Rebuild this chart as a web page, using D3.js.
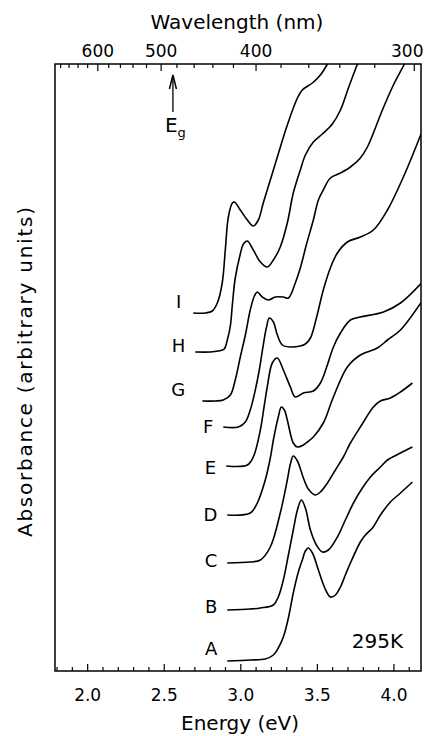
<!DOCTYPE html>
<html>
<head>
<meta charset="utf-8">
<script src="https://cdn.jsdelivr.net/npm/d3@7"></script>
<style>
  body { margin: 0; background: #fff; }
  svg { display: block; font-family: "DejaVu Sans", sans-serif; }
</style>
</head>
<body>
<svg width="427" height="736"></svg>
<script>
// trace names, bottom to top
var names = ["A", "B", "C", "D", "E", "F", "G", "H", "I"];
// vertical offset of each trace (absorbance, arbitrary units)
var offsets = [0.10, 0.61, 1.08, 1.56, 2.05, 2.44, 2.70, 3.19, 3.58];

// [energy (eV), absorbance above the trace's own baseline]
var curveA = [[2.915,0],[3.065,0.01],[3.163,0.02],[3.216,0.06],[3.248,0.13],[3.281,0.24],[3.314,0.43],[3.346,0.68],[3.379,0.89],[3.405,1.01],[3.425,1.10],[3.444,1.13],[3.471,1.08],[3.510,0.91],[3.549,0.74],[3.588,0.64],[3.621,0.66],[3.654,0.74],[3.686,0.86],[3.719,0.98],[3.784,1.19],[3.817,1.26],[3.863,1.33],[3.915,1.46],[3.980,1.59],[4.046,1.68],[4.124,1.79]];
var curveB = [[2.915,0],[3.065,0.01],[3.131,0.02],[3.216,0.05],[3.248,0.13],[3.281,0.30],[3.314,0.55],[3.346,0.80],[3.373,1.00],[3.399,1.10],[3.425,1.02],[3.458,0.80],[3.497,0.65],[3.536,0.58],[3.575,0.60],[3.634,0.73],[3.686,0.90],[3.739,1.07],[3.797,1.22],[3.850,1.33],[3.915,1.43],[3.961,1.50],[4.046,1.57],[4.124,1.63]];
var curveC = [[2.915,0],[3.065,0.01],[3.131,0.03],[3.196,0.16],[3.261,0.50],[3.307,0.83],[3.327,0.99],[3.346,1.07],[3.373,1.02],[3.412,0.85],[3.444,0.74],[3.490,0.68],[3.523,0.71],[3.569,0.80],[3.621,0.93],[3.673,1.06],[3.719,1.20],[3.784,1.36],[3.869,1.56],[3.915,1.62],[3.980,1.65],[4.046,1.71],[4.124,1.80]];
var curveD = [[2.915,0],[3.065,0.02],[3.111,0.12],[3.163,0.35],[3.196,0.57],[3.216,0.75],[3.248,0.98],[3.268,1.08],[3.288,1.05],[3.307,0.95],[3.346,0.72],[3.373,0.68],[3.412,0.70],[3.438,0.73],[3.477,0.78],[3.542,0.92],[3.608,1.18],[3.699,1.48],[3.784,1.60],[3.895,1.67],[3.961,1.75],[4.046,1.85],[4.183,2.13]];
var curveE = [[2.908,0],[3.046,0.01],[3.085,0.09],[3.131,0.36],[3.157,0.61],[3.176,0.79],[3.209,1.03],[3.242,1.08],[3.281,0.96],[3.327,0.79],[3.359,0.69],[3.412,0.73],[3.477,0.75],[3.523,0.83],[3.562,0.98],[3.608,1.19],[3.654,1.33],[3.719,1.46],[3.784,1.49],[3.935,1.54],[4.046,1.63],[4.183,1.83]];
var curveF = [[2.889,0],[2.987,0],[3.033,0.05],[3.065,0.17],[3.098,0.37],[3.124,0.57],[3.150,0.82],[3.170,0.99],[3.190,1.09],[3.216,1.05],[3.242,0.92],[3.275,0.82],[3.327,0.80],[3.392,0.81],[3.425,0.83],[3.458,0.89],[3.497,1.09],[3.542,1.37],[3.588,1.59],[3.634,1.74],[3.699,1.85],[3.784,1.90],[3.869,1.97],[3.961,2.17],[4.065,2.50],[4.183,2.94]];
var curveG = [[2.752,0],[2.837,0],[2.889,0.01],[2.935,0.06],[2.967,0.21],[3.000,0.44],[3.033,0.66],[3.065,0.91],[3.092,1.05],[3.111,1.09],[3.144,1.04],[3.183,1.01],[3.229,1.04],[3.281,1.04],[3.314,1.03],[3.359,1.18],[3.392,1.33],[3.431,1.56],[3.477,1.81],[3.510,2.01],[3.542,2.11],[3.588,2.23],[3.654,2.28],[3.719,2.34],[3.784,2.43],[3.830,2.54],[3.882,2.73],[3.928,2.91],[4.000,3.16],[4.072,3.37],[4.111,3.49]];
var curveH = [[2.706,0],[2.804,0],[2.856,0.01],[2.895,0.03],[2.915,0.12],[2.935,0.26],[2.948,0.47],[2.967,0.74],[3.000,0.98],[3.020,1.08],[3.046,1.11],[3.085,1.02],[3.131,0.90],[3.176,0.85],[3.216,0.92],[3.261,1.05],[3.307,1.29],[3.346,1.59],[3.392,1.82],[3.425,1.97],[3.477,2.10],[3.536,2.18],[3.601,2.28],[3.654,2.42],[3.706,2.64],[3.765,2.88],[3.797,3.00]];
var curveI = [[2.693,0],[2.771,0],[2.817,0.02],[2.850,0.10],[2.882,0.30],[2.902,0.63],[2.922,0.96],[2.948,1.10],[2.961,1.11],[3.000,1.03],[3.046,0.93],[3.085,0.87],[3.118,0.93],[3.150,1.10],[3.196,1.33],[3.242,1.56],[3.307,1.88],[3.373,2.15],[3.405,2.23],[3.471,2.30],[3.523,2.38],[3.569,2.49],[3.608,2.61]];
var curves = [curveA, curveB, curveC, curveD, curveE, curveF, curveG, curveH, curveI];

var energyTicks = [2.0, 2.5, 3.0, 3.5, 4.0];
var wavelengthTicks = [600, 500, 400, 300];
var bandGap = 2.56; // eV

var svg = d3.select("svg"),
    W = +svg.attr("width");
var plotL = 55, plotR = 421, plotT = 64, plotB = 671;

var x = d3.scaleLinear().domain([1.79, 4.18]).range([plotL, plotR]);
var y = d3.scaleLinear().domain([0, 6.07]).range([plotB, plotT]);
var hc = 1239.84;

svg.append("clipPath").attr("id", "plot")
  .append("rect").attr("x", plotL).attr("y", plotT)
  .attr("width", plotR - plotL).attr("height", plotB - plotT);

// bottom axis: energy
var minorE = d3.range(18, 42).map(function(d) { return d / 10; })
  .filter(function(d) { return energyTicks.indexOf(d) < 0; });
svg.append("g").attr("class", "ax")
  .attr("transform", "translate(0," + plotB + ")")
  .call(d3.axisBottom(x).tickValues(minorE).tickSize(-4).tickFormat(""));
svg.append("g").attr("class", "ax lab")
  .attr("transform", "translate(0," + plotB + ")")
  .call(d3.axisBottom(x).tickValues(energyTicks).tickSize(-7).tickPadding(18)
    .tickFormat(d3.format(".1f")));

// top axis: wavelength
var minorL = d3.range(680, 299, -20).filter(function(d) { return d % 100 != 0; });
svg.append("g").attr("class", "ax")
  .attr("transform", "translate(0," + plotT + ")")
  .call(d3.axisTop(x).tickValues(minorL.map(function(l) { return hc / l; }))
    .tickSize(-4).tickFormat(""));
svg.append("g").attr("class", "ax lab topax")
  .attr("transform", "translate(0," + plotT + ")")
  .call(d3.axisTop(x).tickValues(wavelengthTicks.map(function(l) { return hc / l; }))
    .tickSize(-7).tickPadding(7)
    .tickFormat(function(d) { return Math.round(hc / d); }));

svg.selectAll(".ax .domain").remove();
svg.selectAll(".ax line").attr("stroke", "#000").attr("stroke-width", 1.2);
svg.selectAll(".ax text").attr("font-family", "DejaVu Sans").attr("font-size", 17).attr("fill", "#000");

// keep the 300 nm label inside the page
svg.selectAll(".topax .tick").each(function(d) {
  var t = d3.select(this).select("text"), b = t.node().getBBox(), tx = x(d);
  if (tx + b.x + b.width > W - 4) t.attr("x", W - 4 - (tx + b.x + b.width));
});

// frame
svg.append("rect")
  .attr("x", plotL).attr("y", plotT)
  .attr("width", plotR - plotL).attr("height", plotB - plotT)
  .attr("fill", "none").attr("stroke", "#000").attr("stroke-width", 1.5);

// traces
var traces = svg.append("g").attr("clip-path", "url(#plot)");
curves.forEach(function(c, i) {
  var line = d3.line()
    .x(function(d) { return x(d[0]); })
    .y(function(d) { return y(d[1] + offsets[i]); })
    .curve(d3.curveCatmullRom.alpha(0.5));
  traces.append("path").attr("d", line(c))
    .attr("fill", "none").attr("stroke", "#000").attr("stroke-width", 1.6);
});

// trace labels
var labelShift = [[0, -6], [0, 3], [0, 4], [0, 6], [0, 8], [0, 6], [-7, -5], [0, 0], [-2, -5]];
names.forEach(function(n, i) {
  svg.append("text")
    .attr("x", x(curves[i][0][0]) - 10 + labelShift[i][0])
    .attr("y", y(offsets[i]) + labelShift[i][1])
    .attr("text-anchor", "end").attr("font-size", 18)
    .text(n);
});

// band gap marker
var gx = x(bandGap);
svg.append("line").attr("x1", gx).attr("x2", gx).attr("y1", plotT + 14).attr("y2", plotT + 48)
  .attr("stroke", "#000").attr("stroke-width", 1.3);
svg.append("path")
  .attr("d", "M" + (gx - 3.5) + "," + (plotT + 25) + "L" + gx + "," + (plotT + 11) + "L" + (gx + 3.5) + "," + (plotT + 25))
  .attr("fill", "none").attr("stroke", "#000").attr("stroke-width", 1.5);
var eg = svg.append("text").attr("x", gx - 8).attr("y", plotT + 68).attr("font-size", 20);
eg.append("tspan").text("E");
eg.append("tspan").attr("font-size", 13).attr("dy", 5).text("g");

svg.append("text").attr("x", 403).attr("y", 648).attr("text-anchor", "end")
  .attr("font-size", 20).text("295K");

// axis titles
svg.append("text").attr("x", (plotL + plotR) / 2 + 2).attr("y", 730)
  .attr("text-anchor", "middle").attr("font-size", 20).text("Energy (eV)");
svg.append("text").attr("x", 237).attr("y", 29)
  .attr("text-anchor", "middle").attr("font-size", 20).text("Wavelength (nm)");
svg.append("text")
  .attr("transform", "translate(32,372) rotate(-90)")
  .attr("text-anchor", "middle").attr("font-size", 20)
  .attr("textLength", 330).attr("lengthAdjust", "spacing")
  .text("Absorbance (arbitrary units)");
</script>
</body>
</html>
